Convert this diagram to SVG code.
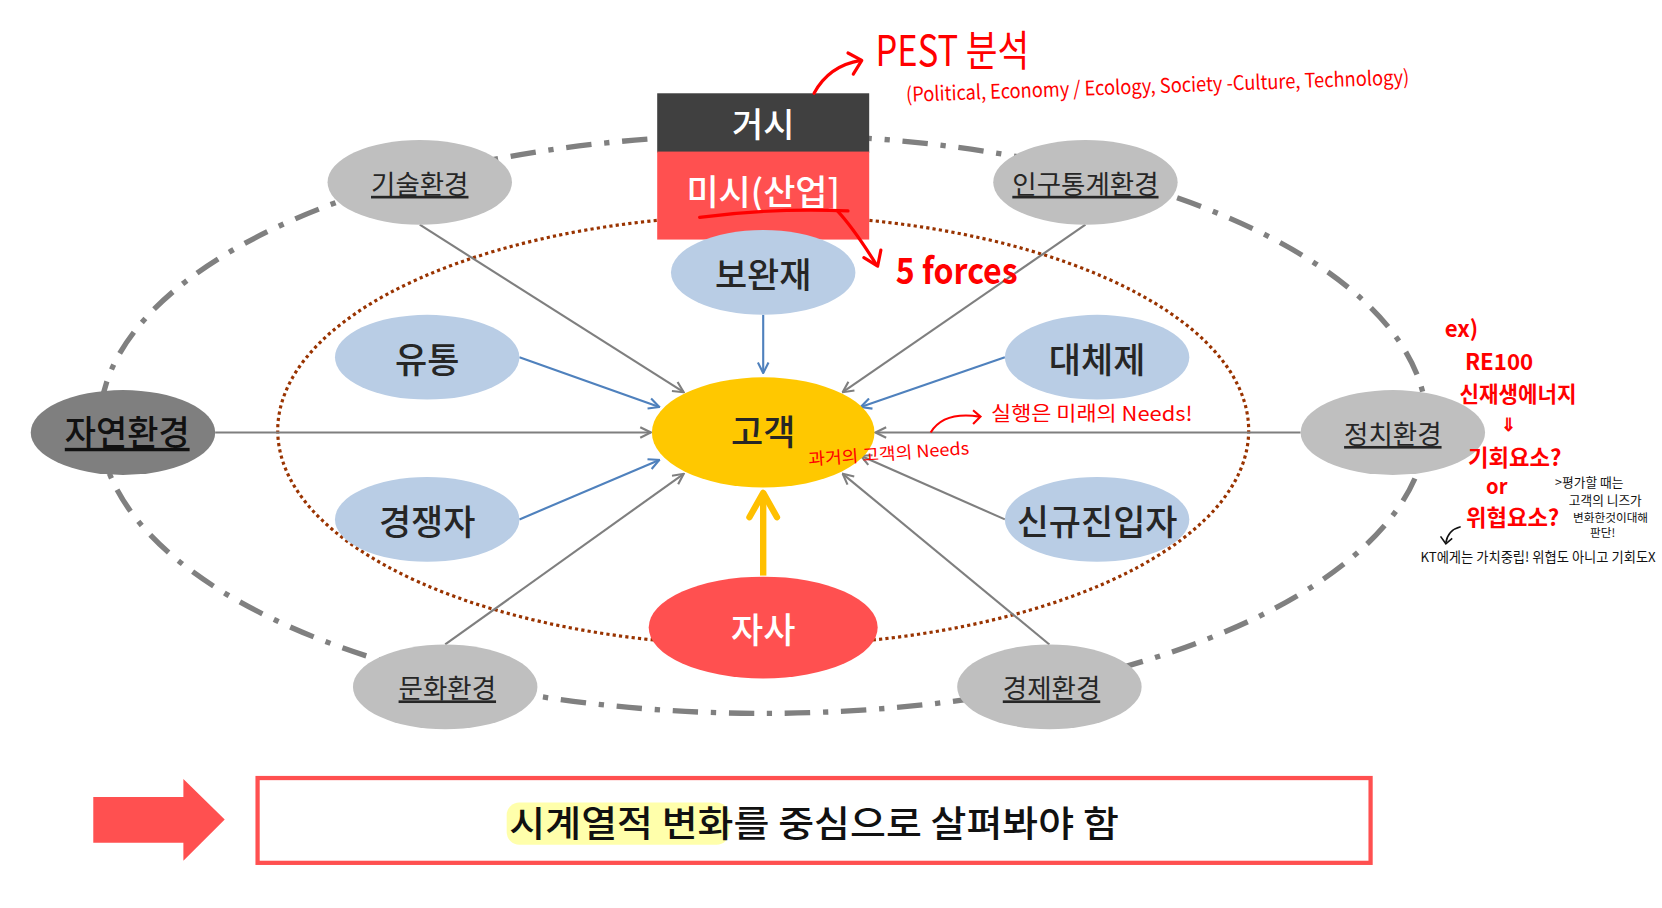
<svg xmlns="http://www.w3.org/2000/svg" width="1662" height="908" viewBox="0 0 1662 908">
<defs>
<style>
.t{font-family:"Noto Sans CJK KR","Noto Sans",sans-serif;text-anchor:middle;dominant-baseline:central}
.big{font-size:33px;font-weight:500;fill:#262626}
.env{font-size:25px;fill:#262626;text-decoration:underline}
.blue{fill:#b9cde5}
.gray{fill:#bfbfbf}
.gl{stroke:#7f7f7f;stroke-width:2;fill:none}
.bl{stroke:#4f81bd;stroke-width:2;fill:none}
.hw{font-family:"Noto Sans CJK KR","Noto Sans",sans-serif;fill:#ff0000}
.hwb{font-family:"Noto Sans CJK KR","Noto Sans",sans-serif;fill:#111}
.rl{stroke:#ff0000;stroke-width:3;fill:none;stroke-linecap:round;stroke-linejoin:round}
</style>
<marker id="ag" viewBox="0 0 12 12" refX="11" refY="6" markerWidth="12" markerHeight="12" markerUnits="userSpaceOnUse" orient="auto">
<path d="M1,1 L11,6 L1,11" fill="none" stroke="#7f7f7f" stroke-width="2"/>
</marker>
<marker id="ab" viewBox="0 0 12 12" refX="11" refY="6" markerWidth="12" markerHeight="12" markerUnits="userSpaceOnUse" orient="auto">
<path d="M1,1 L11,6 L1,11" fill="none" stroke="#4f81bd" stroke-width="2"/>
</marker>
</defs>
<rect width="1662" height="908" fill="#ffffff"/>
<g transform="scale(1.06)">
<!-- background rings -->
<ellipse cx="720" cy="400" rx="626" ry="273" fill="none" stroke="#808080" stroke-width="5" stroke-dasharray="24 12 5 12"/>
<ellipse cx="720" cy="406" rx="458" ry="203" fill="none" stroke="#993300" stroke-width="3" stroke-dasharray="3 3"/>

<g id="connectors">
<line class="gl" x1="396" y1="212" x2="645" y2="370" marker-end="url(#ag)"/>
<line class="gl" x1="1024" y1="212" x2="795" y2="370" marker-end="url(#ag)"/>
<line class="gl" x1="203" y1="408" x2="614" y2="408" marker-end="url(#ag)"/>
<line class="gl" x1="1227" y1="408" x2="826" y2="408" marker-end="url(#ag)"/>
<line class="gl" x1="420" y1="608" x2="645" y2="447" marker-end="url(#ag)"/>
<line class="gl" x1="990" y1="608" x2="795" y2="447" marker-end="url(#ag)"/>
<line class="gl" x1="948" y1="490" x2="812" y2="430" marker-end="url(#ag)"/>
<line class="bl" x1="720" y1="297" x2="720" y2="352" marker-end="url(#ab)"/>
<line class="bl" x1="490" y1="337" x2="622" y2="384" marker-end="url(#ab)"/>
<line class="bl" x1="490" y1="490" x2="622" y2="434" marker-end="url(#ab)"/>
<line class="bl" x1="948" y1="337" x2="812" y2="384" marker-end="url(#ab)"/>
<line x1="720" y1="543" x2="720" y2="465" stroke="#ffc000" stroke-width="6"/>
<path d="M707,488 L720,465 L733,488" fill="none" stroke="#ffc000" stroke-width="6" stroke-linejoin="round" stroke-linecap="round"/>
</g>

<g id="macro">
<rect x="620" y="88" width="200" height="56" fill="#404040"/>
<text class="t" x="720" y="116" font-size="32" fill="#ffffff" font-weight="500">거시</text>
</g>
<g id="micro">
<rect x="620" y="143" width="200" height="83" fill="#ff5050"/>
<text class="t" x="720" y="179" font-size="33" fill="#ffffff" font-weight="500">미시(산업]</text>
</g>

<g id="complement"><ellipse class="blue" cx="720" cy="257" rx="87" ry="40"/><text class="t big" x="720" y="257">보완재</text></g>
<g id="distribution"><ellipse class="blue" cx="403" cy="337" rx="87" ry="40"/><text class="t big" x="403" y="337">유통</text></g>
<g id="substitute"><ellipse class="blue" cx="1035" cy="337" rx="87" ry="40"/><text class="t big" x="1035" y="337">대체제</text></g>
<g id="competitor"><ellipse class="blue" cx="403" cy="490" rx="87" ry="40"/><text class="t big" x="403" y="490">경쟁자</text></g>
<g id="newentrant"><ellipse class="blue" cx="1035" cy="490" rx="87" ry="40"/><text class="t big" x="1035" y="490">신규진입자</text></g>
<g id="customer"><ellipse cx="720" cy="408" rx="105" ry="52" fill="#ffc800"/><text class="t big" x="720" y="405" font-weight="700">고객</text></g>
<g id="company"><ellipse cx="720" cy="592" rx="108" ry="48" fill="#ff5050"/><text class="t big" x="720" y="592" style="fill:#ffffff">자사</text></g>

<g id="tech"><ellipse class="gray" cx="396" cy="172" rx="87" ry="40"/><text class="t env" x="396" y="172">기술환경</text></g>
<g id="demo"><ellipse class="gray" cx="1024" cy="172" rx="87" ry="40"/><text class="t env" x="1024" y="172">인구통계환경</text></g>
<g id="nature"><ellipse cx="116" cy="408" rx="87" ry="40" fill="#7f7f7f"/><text class="t" x="120" y="406" font-size="32" font-weight="500" fill="#111" text-decoration="underline">자연환경</text></g>
<g id="politics"><ellipse class="gray" cx="1314" cy="408" rx="87" ry="40"/><text class="t env" x="1314" y="408">정치환경</text></g>
<g id="culture"><ellipse class="gray" cx="420" cy="648" rx="87" ry="40"/><text class="t env" x="422" y="648">문화환경</text></g>
<g id="economy"><ellipse class="gray" cx="990" cy="648" rx="87" ry="40"/><text class="t env" x="992" y="648">경제환경</text></g>

<!-- handwritten annotations -->
<g id="pest-note">
<path class="rl" d="M768,88 Q782,62 812,57"/>
<path class="rl" d="M800,50 L813,57 L805,70"/>
<text class="hw" x="826" y="62" font-size="40" textLength="145" lengthAdjust="spacingAndGlyphs">PEST 분석</text>
<text class="hw" x="855" y="96" font-size="19" textLength="475" lengthAdjust="spacingAndGlyphs" transform="rotate(-2 855 96)">(Political, Economy / Ecology, Society -Culture, Technology)</text>
</g>
<g id="forces-note">
<path class="rl" d="M660,205 Q730,196 800,199"/>
<path class="rl" d="M790,199 Q805,215 827,250"/>
<path class="rl" d="M815,243 L828,251 L831,236"/>
<text class="hw" x="845" y="268" font-size="34" font-weight="700" textLength="115" lengthAdjust="spacingAndGlyphs">5 forces</text>
</g>
<g id="needs-note">
<path d="M878,408 Q890,388 924,393" fill="none" stroke="#ff0000" stroke-width="2"/>
<path d="M918,387 L925,393 L918,400" fill="none" stroke="#ff0000" stroke-width="2"/>
<text class="hw" x="935" y="397" font-size="19" textLength="190" lengthAdjust="spacingAndGlyphs">실행은 미래의 Needs!</text>
<text class="hw" x="763" y="439" font-size="16" textLength="152" lengthAdjust="spacingAndGlyphs" transform="rotate(-4 763 439)">과거의 고객의 Needs</text>
</g>
<g id="re100-note">
<text class="hw" x="1363" y="318" font-size="21" font-weight="700">ex)</text>
<text class="hw" x="1382" y="349" font-size="21" font-weight="700">RE100</text>
<text class="hw" x="1377" y="379" font-size="20" font-weight="700">신재생에너지</text>
<text class="hw" x="1423" y="407" font-size="17" font-weight="700" text-anchor="middle">⇓</text>
<text class="hw" x="1385" y="440" font-size="21" font-weight="700">기회요소?</text>
<text class="hw" x="1402" y="466" font-size="19" font-weight="700">or</text>
<text class="hw" x="1383" y="496" font-size="21" font-weight="700">위협요소?</text>
<text class="hwb" x="1467" y="459" font-size="12">&gt;평가할 때는</text>
<text class="hwb" x="1480" y="476" font-size="12">고객의 니즈가</text>
<text class="hwb" x="1484" y="492" font-size="11">변화한것이대해</text>
<text class="hwb" x="1500" y="507" font-size="11">판단!</text>
<path d="M1378,497 Q1366,500 1364,512" fill="none" stroke="#111" stroke-width="1.5"/>
<path d="M1359,506 L1364,513 L1370,508" fill="none" stroke="#111" stroke-width="1.5"/>
<text class="hwb" x="1340" y="530" font-size="13" textLength="222" lengthAdjust="spacingAndGlyphs">KT에게는 가치중립! 위협도 아니고 기회도X</text>
</g>

<!-- bottom -->
<g id="big-arrow">
<path d="M88,752 L173,752 L173,735 L212,773 L173,812 L173,795 L88,795 Z" fill="#ff5050"/>
</g>
<g id="conclusion">
<rect x="243" y="734" width="1050" height="80" fill="#ffffff" stroke="#ff5050" stroke-width="4"/>
<rect x="478" y="757" width="210" height="40" rx="12" fill="#ffff66" opacity="0.55"/>
<text class="t" x="768" y="775" font-size="34" font-weight="500" fill="#111" textLength="575" lengthAdjust="spacingAndGlyphs">시계열적 변화를 중심으로 살펴봐야 함</text>
</g>
</g>
</svg>
